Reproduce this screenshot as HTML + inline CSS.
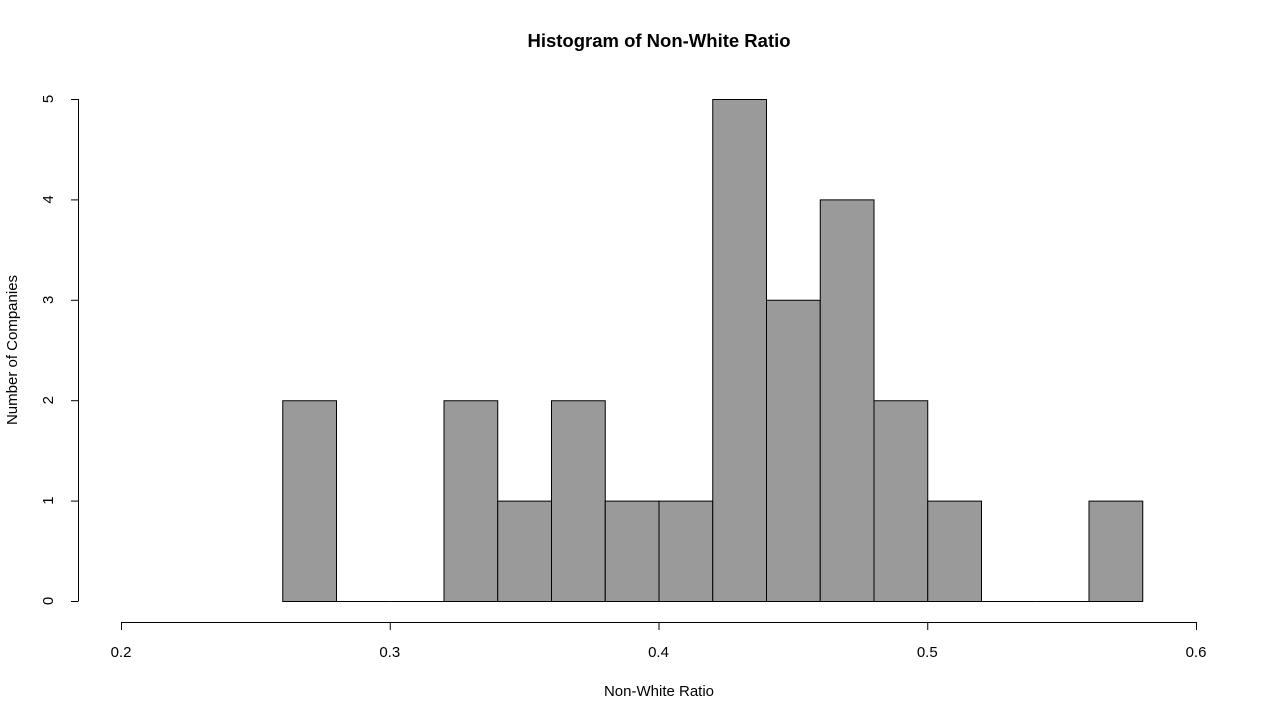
<!DOCTYPE html>
<html><head><meta charset="utf-8">
<style>
html,body{margin:0;padding:0;background:#fff;}
svg{display:block;font-family:"Liberation Sans",Arial,sans-serif;}
</style></head>
<body>
<svg id="chart" width="1280" height="720" viewBox="0 0 1280 720">
<text x="659" y="47" text-anchor="middle" font-size="18.5" font-weight="bold">Histogram of Non-White Ratio</text>
<text x="659" y="696" text-anchor="middle" font-size="15">Non-White Ratio</text>
<text transform="translate(17,350) rotate(-90)" text-anchor="middle" font-size="15">Number of Companies</text>
<g id="bars"></g>
<g id="xaxis"></g>
<g id="yaxis"></g>
</svg>
<script>
const binStarts = [0.26,0.28,0.30,0.32,0.34,0.36,0.38,0.40,0.42,0.44,0.46,0.48,0.50,0.52,0.54,0.56];
const counts = [2,0,0,2,1,2,1,1,5,3,4,2,1,0,0,1];
const binWidth = 0.02;
const xTicks = [0.2,0.3,0.4,0.5,0.6];
const xTickLabels = ["0.2","0.3","0.4","0.5","0.6"];
const yTicks = [0,1,2,3,4,5];
const yTickLabels = ["0","1","2","3","4","5"];

const NS = "http://www.w3.org/2000/svg";
function sx(v){ return 121 + (v-0.2)/(0.6-0.2)*(1196-121); }
function sy(v){ return 601 - v/5*(601-99); }
function mk(tag, attrs, parent){
  const e = document.createElementNS(NS, tag);
  for (const k in attrs) e.setAttribute(k, attrs[k]);
  parent.appendChild(e); return e;
}
const bars = document.getElementById('bars');
binStarts.forEach((b,i)=>{
  const x0 = sx(b)+0.5, x1 = sx(b+binWidth)+0.5, y = sy(counts[i])+0.5, y0 = sy(0)+0.5;
  const r = mk('path',{d:`M${x0},${y0}L${x0},${y}L${x1},${y}L${x1},${y0}Z`,fill:'#9a9a9a',stroke:'#000','stroke-width':1},bars);
  
  
});
const xa = document.getElementById('xaxis');
mk('line',{x1:sx(xTicks[0]),x2:sx(xTicks[xTicks.length-1]),y1:622.5,y2:622.5,stroke:'#000'},xa);
xTicks.forEach((t,i)=>{
  mk('line',{x1:sx(t)+0.5,x2:sx(t)+0.5,y1:622,y2:630,stroke:'#000'},xa);
  const tx = mk('text',{x:sx(t),y:657,'text-anchor':'middle','font-size':15},xa);
  tx.textContent = xTickLabels[i];
  
  
});
const ya = document.getElementById('yaxis');
mk('line',{x1:78.5,x2:78.5,y1:sy(yTicks[yTicks.length-1]),y2:sy(0),stroke:'#000'},ya);
yTicks.forEach((t,i)=>{
  mk('line',{x1:71,x2:78.5,y1:sy(t)+0.5,y2:sy(t)+0.5,stroke:'#000'},ya);
  const tx = mk('text',{transform:`translate(53,${sy(t)}) rotate(-90)`,'text-anchor':'middle','font-size':15},ya);
  tx.textContent = yTickLabels[i];
  
  
});
</script>
</body></html>
